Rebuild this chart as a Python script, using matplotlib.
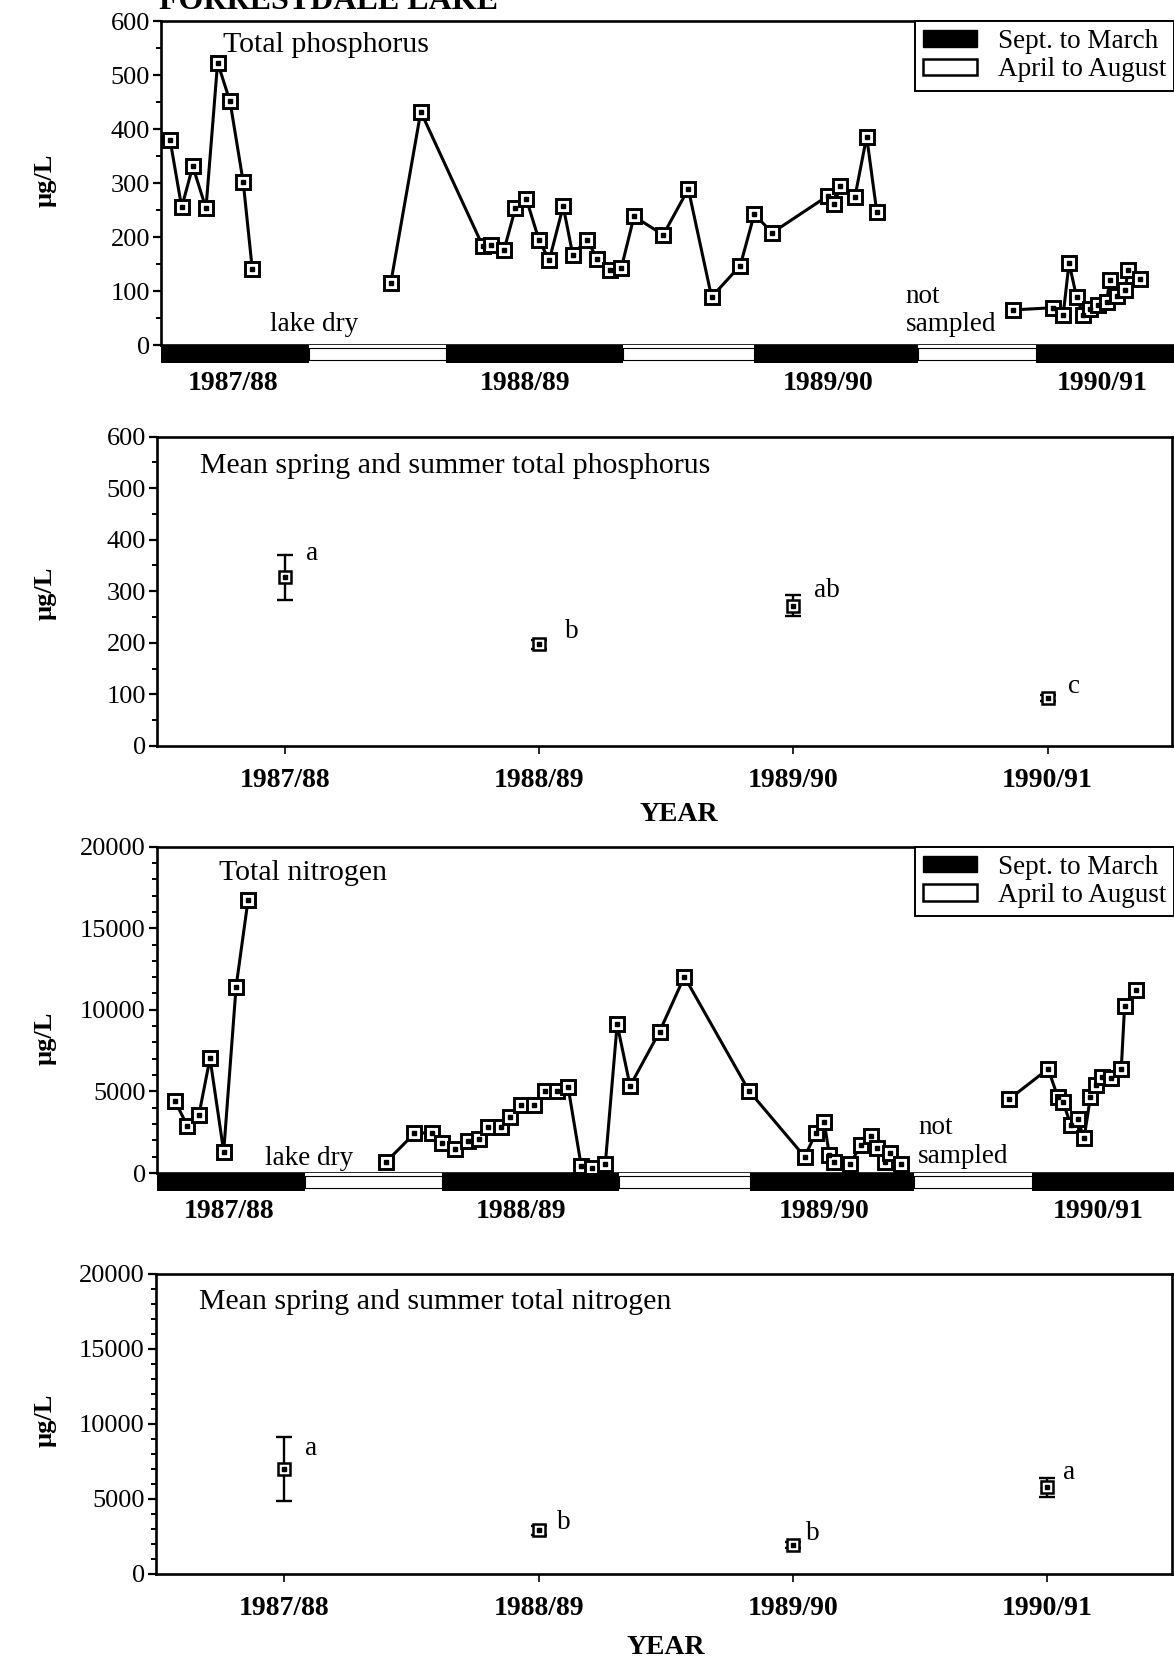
import numpy as np
import matplotlib.pyplot as plt
from matplotlib.patches import Patch
from matplotlib.ticker import MultipleLocator

plt.rcParams['font.family'] = ['Liberation Serif', 'DejaVu Serif']

# sampling dates in months after 1 Sept 1987
tp_month = [0.35, 0.80, 1.23, 1.74, 2.19, 2.67, 3.18, 3.53,
            8.89, 10.05, 12.45, 12.78, 13.27, 13.71, 14.13, 14.62, 15.02, 15.56,
            15.93, 16.47, 16.88, 17.37, 17.81, 18.30, 19.43, 20.40, 21.30, 22.41,
            22.95, 23.65, 25.79, 26.05, 26.27, 26.85, 27.30, 27.69,
            32.97, 34.49, 34.90, 35.13, 35.42, 35.68, 35.94, 36.26, 36.58, 36.71,
            36.99, 37.29, 37.42, 37.87]
tp_ugl = [380, 255, 331, 253, 523, 451, 302, 141,
          115, 432, 183, 186, 176, 253, 271, 195, 157, 257,
          167, 195, 160, 138, 143, 238, 204, 289, 89, 147,
          242, 208, 276, 261, 294, 275, 386, 247,
          65, 69, 55, 152, 89, 56, 66, 74, 80, 121,
          90, 102, 138, 122]

tn_month = [0.69, 1.17, 1.62, 2.05, 2.58, 3.06, 3.52,
            8.87, 9.96, 10.65, 11.03, 11.53, 12.04, 12.44, 12.79, 13.30, 13.67,
            14.08, 14.58, 15.02, 15.47, 15.90, 16.41, 16.84, 17.34, 17.80, 18.30,
            19.44, 20.40, 22.90, 25.05, 25.50, 25.81, 26.01, 26.19, 26.82, 27.22,
            27.60, 27.85, 28.15, 28.36, 28.78,
            32.96, 34.47, 34.85, 35.05, 35.35, 35.61, 35.86, 36.11, 36.32, 36.57,
            36.92, 37.30, 37.43, 37.88]
tn_ugl = [4430, 2900, 3550, 7030, 1310, 11420, 16700,
          690, 2430, 2470, 1860, 1450, 1960, 2070, 2800, 2800, 3450,
          4170, 4170, 5030, 5030, 5290, 430, 290, 530, 9120, 5330,
          8660, 12030, 5030, 1000, 2470, 3100, 1100, 690, 550, 1720,
          2290, 1510, 690, 1200, 530,
          4520, 6380, 4640, 4330, 2940, 3290, 2130, 4680, 5390, 5900,
          5800, 6380, 10260, 11220]

# seasons along the time axis (start, end) in months
sep_mar = [(0.0, 5.73), (11.03, 17.87), (22.94, 29.28), (33.85, 39.4)]
apr_aug = [(5.73, 11.03), (17.87, 22.94), (29.28, 33.85)]
years = ['1987/88', '1988/89', '1989/90', '1990/91']
year_month = [2.8, 14.1, 25.8, 36.4]

# spring/summer means with standard errors
tp_mean = [327, 197, 272, 93]
tp_se = [43, 8, 20, 5]
tp_group = ['a', 'b', 'ab', 'c']
tn_mean = [6960, 2900, 1900, 5750]
tn_se = [2150, 300, 200, 650]
tn_group = ['a', 'b', 'b', 'a']

W, H = 1174, 1662
fig = plt.figure(figsize=(W / 100, H / 100), dpi=100)


def box(x0, y0, x1, y1):
    return [x0 / W, 1 - y1 / H, (x1 - x0) / W, (y1 - y0) / H]


def style_y(ax, major, minor):
    ax.yaxis.set_major_locator(MultipleLocator(major))
    ax.yaxis.set_minor_locator(MultipleLocator(minor))
    ax.tick_params(axis='y', which='major', direction='out', length=6, width=1.6,
                   labelsize=19, pad=2)
    ax.tick_params(axis='y', which='minor', direction='out', length=3.5, width=1.4)
    for s in ax.spines.values():
        s.set_linewidth(1.9)


def squares(ax, x, y, ms=9.5, mew=2.1):
    ax.plot(x, y, 's', ms=ms, mfc='white', mec='k', mew=mew, zorder=4, clip_on=False)
    ax.plot(x, y, 's', ms=2.4, color='k', zorder=5, clip_on=False)


def series_panel(rect, bar_rect, months, vals, ymax, major, minor, xmax):
    ax = fig.add_axes(rect)
    months = np.asarray(months)
    vals = np.asarray(vals)
    # break the line where sampling stopped
    cuts = np.where(np.diff(months) > 3)[0] + 1
    for m, v in zip(np.split(months, cuts), np.split(vals, cuts)):
        ax.plot(m, v, '-', color='k', lw=2.2, zorder=3)
    squares(ax, months, vals)
    ax.set_xlim(0, xmax)
    ax.set_ylim(0, ymax)
    ax.set_xticks([])
    ax.spines['right'].set_visible(False)
    style_y(ax, major, minor)

    bar = fig.add_axes(bar_rect)
    bar.set_ylim(0, 1)
    bar.broken_barh([(a, b - a) for a, b in sep_mar], (0, 1), facecolors='k')
    bar.broken_barh([(a, b - a) for a, b in apr_aug], (0.15, 0.7), facecolors='white',
                    edgecolors='k', linewidth=0.8)
    bar.set_yticks([])
    for s in bar.spines.values():
        s.set_visible(False)
    bar.set_xlim(0, xmax)
    bar.set_xticks(year_month)
    bar.set_xticklabels(years, fontsize=20, fontweight='bold')
    bar.tick_params(axis='x', length=0, pad=6)

    handles = [Patch(facecolor='k', edgecolor='k', label='Sept. to March'),
               Patch(facecolor='white', edgecolor='k', linewidth=1.8, label='April to August')]
    leg = ax.legend(handles=handles, loc='upper right', bbox_to_anchor=(1.0, 1.0),
                    borderaxespad=0, fontsize=19.5, frameon=True, fancybox=False,
                    framealpha=1, edgecolor='k', handlelength=2.0, handleheight=0.55,
                    handletextpad=0.75, labelspacing=0.12, borderpad=0.3)
    leg.get_frame().set_linewidth(1.4)
    return ax


def mean_panel(rect, mean, se, group, ymax, major, minor, title, group_xy):
    ax = fig.add_axes(rect)
    x = np.arange(len(mean))
    ax.errorbar(x, mean, yerr=se, fmt='none', ecolor='k', elinewidth=1.7,
                capsize=6, capthick=1.7, zorder=3)
    squares(ax, x, mean, ms=9, mew=1.8)
    for (gx, gy), g in zip(group_xy, group):
        ax.text(gx, gy, g, fontsize=19.5, ha='left', va='center')
    ax.set_xlim(-0.505, 3.49)
    ax.set_ylim(0, ymax)
    ax.set_xticks(x)
    ax.set_xticklabels(years, fontsize=20, fontweight='bold')
    ax.tick_params(axis='x', direction='out', length=6, width=1.2, pad=10)
    style_y(ax, major, minor)
    ax.text(-0.335, ymax * 0.905, title, fontsize=21.5, ha='left', va='center')
    return ax


# total phosphorus time series
ax1 = series_panel(box(161, 21, 1174, 345), box(161, 345, 1174, 363),
                   tp_month, tp_ugl, 600, 100, 50, 39.19)
ax1.text(2.38, 556, 'Total phosphorus', fontsize=21.5, va='center')
ax1.text(4.2, 38, 'lake dry', fontsize=19.5, va='center')
ax1.text(28.8, 90, 'not', fontsize=19.5, va='center')
ax1.text(28.8, 38, 'sampled', fontsize=19.5, va='center')

# mean spring/summer phosphorus
mean_panel(box(157, 436.5, 1172, 746), tp_mean, tp_se, tp_group, 600, 100, 50,
           'Mean spring and summer total phosphorus',
           [(0.08, 374), (1.1, 222), (2.08, 302), (3.08, 115)])

# total nitrogen time series
ax3 = series_panel(box(157, 846.6, 1174, 1173), box(157, 1173, 1174, 1191),
                   tn_month, tn_ugl, 20000, 5000, 1000, 39.34)
ax3.text(2.4, 18400, 'Total nitrogen', fontsize=21.5, va='center')
ax3.text(4.18, 900, 'lake dry', fontsize=19.5, va='center')
ax3.text(29.45, 2800, 'not', fontsize=19.5, va='center')
ax3.text(29.45, 1000, 'sampled', fontsize=19.5, va='center')

# mean spring/summer nitrogen
mean_panel(box(156, 1273.6, 1172, 1573.5), tn_mean, tn_se, tn_group, 20000, 5000, 1000,
           'Mean spring and summer total nitrogen',
           [(0.08, 8330), (1.07, 3390), (2.05, 2690), (3.06, 6710)])

# axis titles
for y in [180, 593, 1038, 1420]:
    fig.text(45 / W, 1 - y / H, 'µg/L', rotation=90, fontsize=19, fontweight='bold',
             ha='center', va='center')
fig.text(679 / W, 1 - 815 / H, 'YEAR', fontsize=20, fontweight='bold', ha='center', va='center')
fig.text(666 / W, 1 - 1648 / H, 'YEAR', fontsize=20, fontweight='bold', ha='center', va='center')
fig.text(159 / W, 1 - 9 / H, 'FORRESTDALE LAKE', fontsize=23, fontweight='bold',
         ha='left', va='baseline')

fig.savefig('out.png', dpi=100)
